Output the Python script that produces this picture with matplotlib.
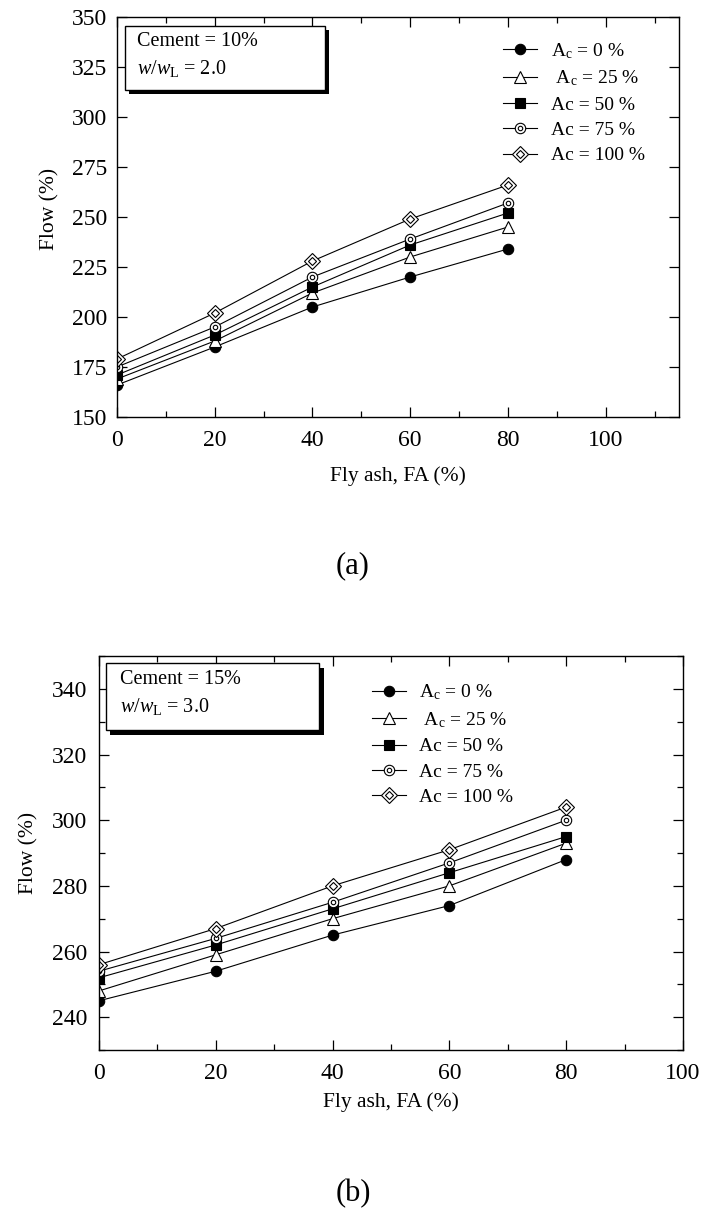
import matplotlib
matplotlib.use("Agg")
import matplotlib.pyplot as plt
import matplotlib.patheffects as pe
from matplotlib.patches import Rectangle
from matplotlib.ticker import MultipleLocator
from matplotlib.legend_handler import HandlerTuple

plt.rcParams['font.family'] = ['Liberation Serif', 'DejaVu Serif']
plt.rcParams['mathtext.fontset'] = 'custom'
plt.rcParams['mathtext.rm'] = 'Liberation Serif'
plt.rcParams['mathtext.it'] = 'Liberation Serif:italic'

# fly ash content (%)
fa = [0, 20, 40, 60, 80]

# (a) cement 10 %, w/wL = 2.0
flow_a_0 = [166, 185, 205, 220, 234]
flow_a_25 = [169, 188, 212, 230, 245]
flow_a_50 = [171, 191, 215, 236, 252]
flow_a_75 = [175, 195, 220, 239, 257]
flow_a_100 = [179, 202, 228, 249, 266]

# (b) cement 15 %, w/wL = 3.0
flow_b_0 = [245, 254, 265, 274, 288]
flow_b_25 = [248, 259, 270, 280, 293]
flow_b_50 = [252, 262, 273, 284, 295]
flow_b_75 = [254, 264, 275, 287, 300]
flow_b_100 = [256, 267, 280, 291, 304]

labels = [r"A$_\mathrm{c}$ = 0 %", r" A$_\mathrm{c}$ = 25 %", "Ac = 50 %",
          "Ac = 75 %", "Ac = 100 %"]

LW = 0.8


def draw_series(ax, series):
    handles = []
    # filled circle
    h, = ax.plot(fa, series[0], '-', color='k', lw=LW, marker='o', ms=7.5,
                 mfc='k', mec='k', mew=0.8)
    handles.append(h)
    # open triangle
    h, = ax.plot(fa, series[1], '-', color='k', lw=LW, marker='^', ms=8.5,
                 mfc='white', mec='k', mew=0.8)
    handles.append(h)
    # filled square
    h, = ax.plot(fa, series[2], '-', color='k', lw=LW, marker='s', ms=7,
                 mfc='k', mec='k', mew=0.8)
    handles.append(h)
    # double circle
    h1, = ax.plot(fa, series[3], '-', color='k', lw=LW, marker='o', ms=7.5,
                  mfc='white', mec='k', mew=0.8)
    h2, = ax.plot(fa, series[3], 'none', marker='o', ms=3.2,
                  mfc='white', mec='k', mew=0.8)
    handles.append((h1, h2))
    # double diamond
    h1, = ax.plot(fa, series[4], '-', color='k', lw=LW, marker='D', ms=8.5,
                  mfc='white', mec='k', mew=0.8)
    h2, = ax.plot(fa, series[4], 'none', marker='D', ms=4.5,
                  mfc='white', mec='k', mew=0.8)
    handles.append((h1, h2))
    return handles


def style_axes(ax):
    ax.tick_params(which='both', direction='in', top=True, right=True,
                   width=0.9, labelsize=17)
    ax.tick_params(which='major', length=7)
    ax.tick_params(which='minor', length=4)
    ax.tick_params(axis='x', pad=9)
    ax.tick_params(axis='y', pad=7)
    for s in ax.spines.values():
        s.set_linewidth(1.0)


def info_box(ax, x0, y0, w, h, line1, line2, tx, ty1, ty2):
    rect = Rectangle((x0, y0), w, h, transform=ax.transAxes, facecolor='white',
                     edgecolor='k', lw=1.0, zorder=5,
                     path_effects=[pe.SimplePatchShadow(offset=(3.2, -3.2),
                                                        shadow_rgbFace='k',
                                                        alpha=1.0),
                                   pe.Normal()])
    ax.add_patch(rect)
    ax.text(tx, ty1, line1, transform=ax.transAxes, fontsize=14.5,
            va='center', ha='left', zorder=6)
    ax.text(tx, ty2, line2, transform=ax.transAxes, fontsize=14.5,
            va='center', ha='left', zorder=6)


def add_legend(ax, hs, anchor):
    ax.legend(hs, labels, handler_map={tuple: HandlerTuple(ndivide=1)},
              loc='upper left', bbox_to_anchor=anchor, frameon=False,
              fontsize=14, handlelength=1.75, handletextpad=0.7,
              labelspacing=0.4, borderpad=0, borderaxespad=0)


fig = plt.figure(figsize=(7.06, 12.15), dpi=100)

# ---- (a)
ax1 = fig.add_axes([0.1657, 0.65679, 0.7960, 0.32922])
hs = draw_series(ax1, [flow_a_0, flow_a_25, flow_a_50, flow_a_75, flow_a_100])
ax1.set_xlim(0, 115)
ax1.set_ylim(150, 350)
ax1.xaxis.set_minor_locator(MultipleLocator(10))
ax1.yaxis.set_major_locator(MultipleLocator(25))
ax1.set_xticks([0, 20, 40, 60, 80, 100])
style_axes(ax1)
ax1.set_xlabel("Fly ash, FA (%)", fontsize=15.5, labelpad=11)
ax1.set_ylabel("Flow (%)", fontsize=15.5)
ax1.yaxis.set_label_coords(-0.102, 0.52)
add_legend(ax1, hs, (0.687, 0.94))
info_box(ax1, 0.0142, 0.8175, 0.356, 0.16, "Cement = 10%",
         r"$w/w_\mathrm{L}$ = 2.0", 0.0356, 0.938, 0.872)
fig.text(0.5, 1 - 566 / 1215, "(a)", fontsize=22, ha='center', va='center')

# ---- (b)
ax2 = fig.add_axes([0.14023, 0.13580, 0.82720, 0.32428])
hs = draw_series(ax2, [flow_b_0, flow_b_25, flow_b_50, flow_b_75, flow_b_100])
ax2.set_xlim(0, 100)
ax2.set_ylim(230, 350)
ax2.xaxis.set_major_locator(MultipleLocator(20))
ax2.xaxis.set_minor_locator(MultipleLocator(10))
ax2.yaxis.set_minor_locator(MultipleLocator(10))
ax2.set_yticks([240, 260, 280, 300, 320, 340])
style_axes(ax2)
ax2.tick_params(axis='y', pad=8.5)
ax2.set_xlabel("Fly ash, FA (%)", fontsize=15.5, labelpad=6)
ax2.set_ylabel("Flow (%)", fontsize=15.5)
ax2.yaxis.set_label_coords(-0.103, 0.5)
add_legend(ax2, hs, (0.467, 0.932))
info_box(ax2, 0.012, 0.812, 0.365, 0.170, "Cement = 15%",
         r"$w/w_\mathrm{L}$ = 3.0", 0.036, 0.9416, 0.873)
fig.text(0.5, 1 - 1194 / 1215, "(b)", fontsize=22, ha='center', va='center')

fig.savefig("out.png", dpi=100)
